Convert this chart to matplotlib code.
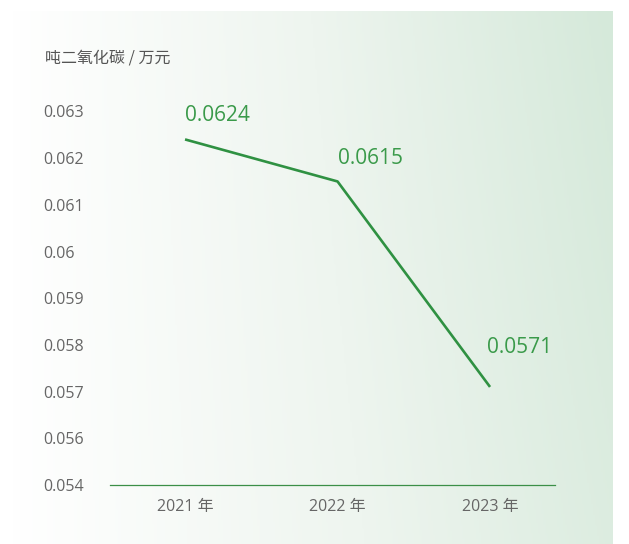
import numpy as np
import matplotlib
matplotlib.use("Agg")
import matplotlib.pyplot as plt
from matplotlib.colors import LinearSegmentedColormap

plt.rcParams['font.family'] = ['Open Sans', 'Noto Sans CJK SC', 'DejaVu Sans']

# data
years = ["2021 年", "2022 年", "2023 年"]
values = [0.0624, 0.0615, 0.0571]
value_labels = ["0.0624", "0.0615", "0.0571"]
ytick_vals = [0.063, 0.062, 0.061, 0.060, 0.059, 0.058, 0.057, 0.056, 0.055]
ytick_labels = ["0.063", "0.062", "0.061", "0.06", "0.059", "0.058", "0.057", "0.056", "0.054"]
unit = "吨二氧化碳 / 万元"

W, H = 629, 544
fig = plt.figure(figsize=(W / 100, H / 100), dpi=100)
fig.patch.set_facecolor("white")

# gradient background panel
bg = fig.add_axes([10 / W, 0, (613 - 10) / W, (H - 11) / H])
bg.axis("off")
gx = np.linspace(0, 1, 300)
gy = np.linspace(0, 1, 200)
GX, GY = np.meshgrid(gx, gy)
grad = np.clip(0.85 * GX + 0.15 * GY * GX, 0, 1)
cmap = LinearSegmentedColormap.from_list("bg", ["#ffffff", "#eef5ef", "#d5e9da"])
bg.imshow(grad, cmap=cmap, aspect="auto", origin="lower", extent=[0, 1, 0, 1])
bg.set_xlim(0, 1)
bg.set_ylim(0, 1)

# main axes
y_bottom_px = 485
top_val = 0.0635
px_per = 46.7 / 0.001
top_px = y_bottom_px - (top_val - 0.055) * px_per
ax = fig.add_axes([110 / W, (H - y_bottom_px) / H, 445 / W, (y_bottom_px - top_px) / H])
ax.patch.set_alpha(0)

x = np.arange(len(years))
line_color = "#2f9142"
ax.plot(x, values, color=line_color, lw=1.9, solid_capstyle="butt", zorder=3)

offsets = [(0, 13), (0, 12), (-3, 29)]
for xi, v, lab, off in zip(x, values, value_labels, offsets):
    ax.annotate(lab, (xi, v), xytext=off, textcoords="offset pixels",
                ha="left", va="bottom", fontsize=15, color="#3a9a4a")

ax.set_xlim(-0.492, 2.426)
ax.set_ylim(0.055, top_val)

ax.set_yticks(ytick_vals)
ax.set_yticklabels(ytick_labels)
ax.set_xticks(x)
ax.set_xticklabels(years)
ax.tick_params(axis="y", length=0, pad=48, labelsize=11.5, labelcolor="#666666")
ax.tick_params(axis="x", length=0, pad=10, labelsize=11.5, labelcolor="#666666")
for lab in ax.get_yticklabels():
    lab.set_horizontalalignment("left")

for s in ["top", "right", "left"]:
    ax.spines[s].set_visible(False)
ax.spines["bottom"].set_color("#3b8f47")
ax.spines["bottom"].set_linewidth(0.9)

fig.text(45 / W, 1 - 58 / H, unit, ha="left", va="center", fontsize=11.5,
         color="#555555", family=["Noto Sans CJK SC", "DejaVu Sans"])

fig.savefig("out.png", dpi=100)
